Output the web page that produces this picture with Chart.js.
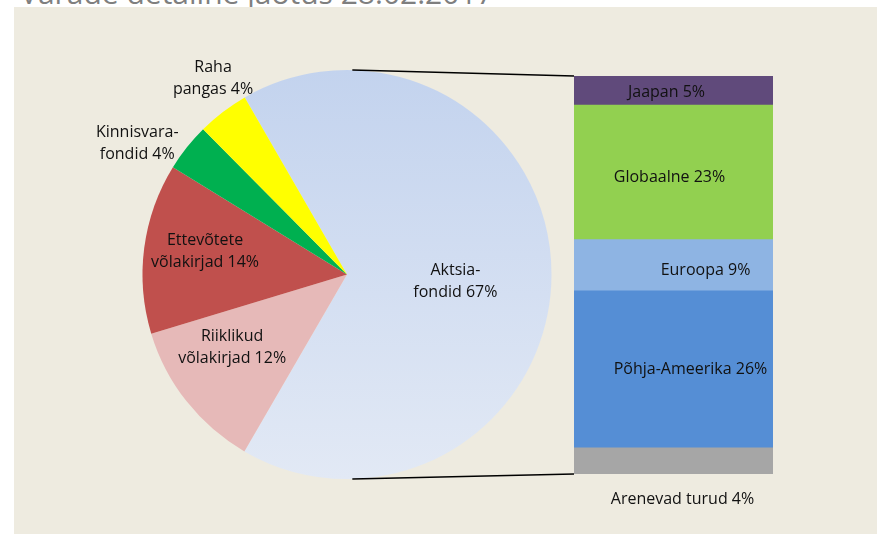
<!DOCTYPE html>
<html>
<head>
<meta charset="utf-8">
<script src="https://cdn.jsdelivr.net/npm/chart.js"></script>
<style>
    body { margin: 0; background: #fff; }
    #wrap { position: relative; width: 877px; height: 534px; overflow: hidden; }
    #panel { position: absolute; left: 14px; top: 7px; right: 0; bottom: 0; background: #EEEBE0; }
    #title { position: absolute; left: 20px; top: -22px; font: 30px "Open Sans", sans-serif; line-height: 30px; color: #7f7f7f; white-space: nowrap; }
    canvas { position: absolute; left: 0; top: 0; }
</style>
</head>
<body>
<div id="wrap">
    <div id="title">Varade detailne jaotus 28.02.2017</div>
    <div id="panel"></div>
    <canvas id="pie-chart" width="877" height="534"></canvas>
    <canvas id="bar-chart" width="877" height="534"></canvas>
</div>
<script>
// Varade jaotus (pirukas), %
var pieLabels = [['Aktsia-', 'fondid'], ['Riiklikud', 'võlakirjad'], ['Ettevõtete', 'võlakirjad'], ['Kinnisvara-', 'fondid'], ['Raha', 'pangas']];
var pieValues = [66.9, 12.0, 13.5, 3.8, 4.1];
var pieColors = [null, '#E6B9B8', '#C0504D', '#00B050', '#FFFF00'];

// Aktsiafondide jaotus (tulp), alt üles, %
var barLabels = ['Arenevad turud', 'Põhja-Ameerika', 'Euroopa', 'Globaalne', 'Jaapan'];
var barValues = [4.4, 26.4, 8.6, 22.6, 4.9];
var barColors = ['#A6A6A6', '#558ED5', '#8EB4E3', '#92D050', '#604A7B'];

var labelFont = '16px "Open Sans", sans-serif';
var lineH = 22;

// sildi asukoht: [raadiuse osa, dx, dy]
var pieLabelPos = [[0.53, 0, 7], [0.66, -9, -11], [0.70, 0, -5], [1.21, -16, 23], [1.16, 10, -7.5]];
// tulba sildid: [dx, dy] segmendi keskelt
var barLabelPos = [[9, 39], [17, 0], [32, 5], [-4, 5], [-7, 1.5]];

function drawLines(c, lines, x, y) {
    var top = y - (lines.length - 1) * lineH / 2;
    lines.forEach(function (t, i) {
        c.fillText(t, x, top + i * lineH);
    });
}

var pieLabelPlugin = {
    id: 'pieLabels',
    afterDatasetsDraw: function (chart) {
        var c = chart.ctx;
        var arcs = chart.getDatasetMeta(0).data;
        c.save();
        c.font = labelFont;
        c.fillStyle = '#111';
        c.textAlign = 'center';
        c.textBaseline = 'middle';
        arcs.forEach(function (arc, i) {
            var mid = (arc.startAngle + arc.endAngle) / 2;
            var p = pieLabelPos[i];
            var d = arc.outerRadius * p[0];
            var x = arc.x + Math.cos(mid) * d + p[1];
            var y = arc.y + Math.sin(mid) * d + p[2];
            var lines = pieLabels[i].slice();
            lines[lines.length - 1] += ' ' + Math.round(pieValues[i]) + '%';
            drawLines(c, lines, x, y);
        });
        c.restore();
    }
};

var pieChart = new Chart(document.getElementById('pie-chart').getContext('2d'), {
    type: 'pie',
    data: {
        labels: pieLabels.map(function (l) { return l.join(' '); }),
        datasets: [{
            data: pieValues,
            backgroundColor: function (context) {
                if (context.dataIndex !== 0) return pieColors[context.dataIndex];
                var area = context.chart.chartArea;
                if (!area) return '#D3DEF1';
                // Aktsiafondid - ülevalt tumedam, alt heledam
                var g = context.chart.ctx.createLinearGradient(0, area.top, 0, area.bottom);
                g.addColorStop(0, '#C3D3EE');
                g.addColorStop(1, '#E2E9F5');
                return g;
            },
            borderWidth: 0
        }]
    },
    options: {
        responsive: false,
        animation: false,
        rotation: -30,
        layout: { padding: { left: 142, right: 325, top: 70, bottom: 55 } },
        plugins: {
            legend: { display: false },
            tooltip: { enabled: false }
        }
    },
    plugins: [pieLabelPlugin]
});

var barExtrasPlugin = {
    id: 'barExtras',
    afterDatasetsDraw: function (chart) {
        var c = chart.ctx;
        var bottomBar = chart.getDatasetMeta(0).data[0];
        var topBar = chart.getDatasetMeta(barValues.length - 1).data[0];
        var left = bottomBar.x - bottomBar.width / 2;
        var arc = pieChart.getDatasetMeta(0).data[0];

        // ühendusjooned piruka ja tulba vahel
        var a1 = -Math.PI / 2 + 0.026, a2 = Math.PI / 2 - 0.026;
        c.save();
        c.strokeStyle = '#000';
        c.lineWidth = 1.6;
        c.beginPath();
        c.moveTo(arc.x + Math.cos(a1) * arc.outerRadius, arc.y + Math.sin(a1) * arc.outerRadius);
        c.lineTo(left, topBar.y);
        c.moveTo(arc.x + Math.cos(a2) * arc.outerRadius, arc.y + Math.sin(a2) * arc.outerRadius);
        c.lineTo(left, bottomBar.base);
        c.stroke();

        // sildid
        c.font = labelFont;
        c.fillStyle = '#111';
        c.textAlign = 'center';
        c.textBaseline = 'middle';
        barValues.forEach(function (v, i) {
            var bar = chart.getDatasetMeta(i).data[0];
            var p = barLabelPos[i];
            c.fillText(barLabels[i] + ' ' + Math.round(v) + '%', bar.x + p[0], (bar.y + bar.base) / 2 + p[1]);
        });
        c.restore();
    }
};

var barTotal = barValues.reduce(function (a, b) { return a + b; }, 0);

var barChart = new Chart(document.getElementById('bar-chart').getContext('2d'), {
    type: 'bar',
    data: {
        labels: ['Aktsiafondid'],
        datasets: barValues.map(function (v, i) {
            return {
                label: barLabels[i],
                data: [v],
                backgroundColor: barColors[i],
                borderWidth: 0,
                barPercentage: 1,
                categoryPercentage: 1
            };
        })
    },
    options: {
        responsive: false,
        animation: false,
        layout: { padding: { left: 574, right: 104, top: 76, bottom: 60 } },
        scales: {
            x: { stacked: true, display: false },
            y: { stacked: true, display: false, min: 0, max: barTotal }
        },
        plugins: {
            legend: { display: false },
            tooltip: { enabled: false }
        }
    },
    plugins: [barExtrasPlugin]
});
</script>
</body>
</html>
